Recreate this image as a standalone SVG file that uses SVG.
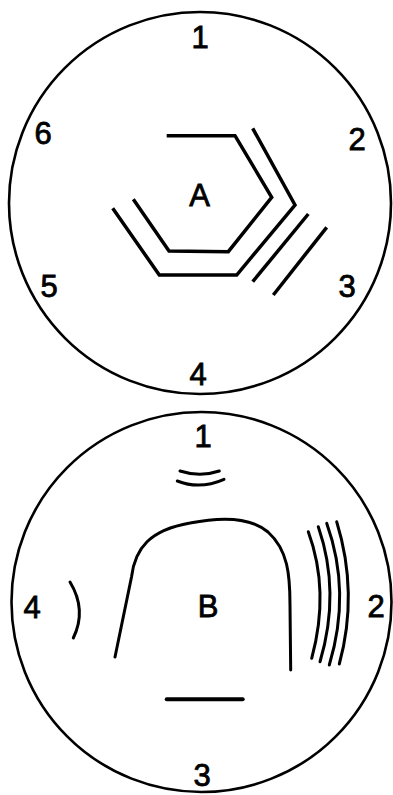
<svg xmlns="http://www.w3.org/2000/svg" width="393" height="795" viewBox="0 0 393 795">
<style>
.ln{fill:none;stroke:#000;stroke-width:3.5;stroke-linecap:butt;stroke-linejoin:miter}
.th{fill:none;stroke:#000;stroke-width:3;stroke-linecap:round}
.ring{fill:none;stroke:#000;stroke-width:2.6}
text{font-family:"Liberation Sans",Arial,sans-serif;font-size:31px;fill:#000;stroke:#000;stroke-width:0.8;text-anchor:middle}
</style>
<rect width="393" height="795" fill="#fff"/>
<g id="dialA">
<circle class="ring" cx="200" cy="203" r="191"/>
<text x="200" y="48">1</text>
<text x="357" y="150">2</text>
<text x="347" y="297">3</text>
<text x="198" y="385">4</text>
<text x="49" y="297">5</text>
<text x="43" y="144">6</text>
<text x="199.5" y="206">A</text>
<polyline class="ln" points="166.7,135.7 235,135.7 271.7,197.3 228.3,251.7 169,251 133.3,199.3"/>
<polyline class="ln" points="112.7,208.3 159.3,275 236.7,275 295,205 252.7,128.3"/>
<line class="ln" x1="252.7" y1="281.7" x2="308.3" y2="214"/>
<line class="ln" x1="273.3" y1="295" x2="326.7" y2="227.3"/>
</g>
<g id="dialB">
<circle class="ring" cx="201.5" cy="602" r="190"/>
<text x="203" y="447">1</text>
<text x="376" y="617">2</text>
<text x="202" y="786">3</text>
<text x="32" y="618">4</text>
<text x="208" y="617">B</text>
<path class="th" d="M180,471 Q200,477.5 219.3,471"/>
<path class="th" d="M177.3,481 Q200,490 224,479.3"/>
<path class="th" d="M115,657 L131.5,577 C135,548 150,530 190,523 C215,518 248,515 268,532 C288,550 290,575 290,605 L290.7,670"/>
<path class="th" d="M70,582 Q87,610 73.3,638"/>
<path class="th" d="M308.3,531.7 Q330,591 311.7,658.3"/>
<path class="th" d="M318.3,526.7 Q340.8,592 320,661.7"/>
<path class="th" d="M326.7,523.3 Q351.3,592 329.3,665"/>
<path class="th" d="M336.7,521.7 Q358.6,593 339.3,664"/>
<line x1="166.7" y1="699.3" x2="242.7" y2="699.3" stroke="#000" stroke-width="4" stroke-linecap="round"/>
</g>
</svg>
